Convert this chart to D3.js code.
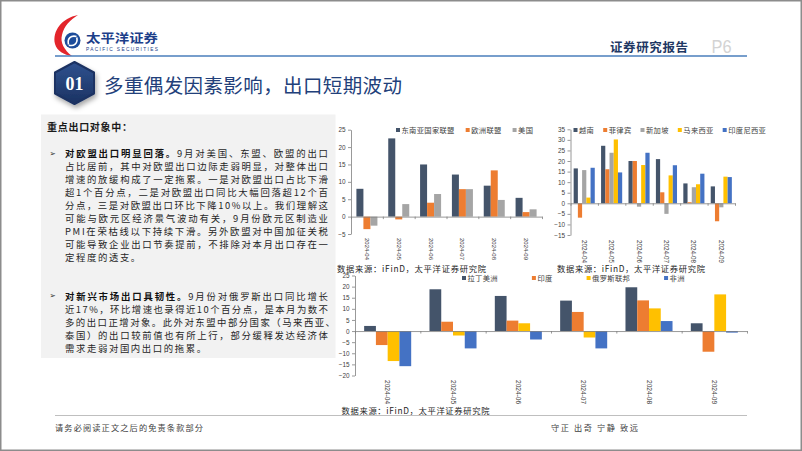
<!DOCTYPE html>
<html><head><meta charset="utf-8">
<script src="https://cdn.jsdelivr.net/npm/d3@7"></script>
<style>body{margin:0;background:#fff;} svg{display:block;}</style>
</head><body>
<svg id="c" width="802" height="451"></svg>
<script>
// ---------- DATA ----------
const months = ["2024-04","2024-05","2024-06","2024-07","2024-08","2024-09"];

const names1 = ["东南亚国家联盟","欧洲联盟","美国"];
const asean = [8.0, 22.5, 15.0, 12.1, 8.9, 5.4];
const eu    = [-3.6, -0.8, 4.0, 7.9, 13.3, 1.3];
const usa   = [-2.6, 3.6, 6.5, 7.9, 4.8, 2.1];
const ticks1 = [-5, 0, 5, 10, 15, 20, 25];

const names2 = ["越南","菲律宾","新加坡","马来西亚","印度尼西亚"];
const vietnam     = [16.5, 27.2, 20.0, 20.9, 9.4, 8.0];
const philippines = [-6.8, 16.1, 20.0, 5.2, 0.5, -8.5];
const singapore   = [15.7, 23.9, -1.6, -5.0, 7.6, -1.9];
const malaysia    = [2.7, 30.2, 18.1, 13.2, 9.0, 12.6];
const indonesia   = [16.8, 14.6, 23.9, 18.0, 14.0, 12.4];
const ticks2 = [-15, -10, -5, 0, 5, 10, 15, 20, 25, 30, 35];

const names3 = ["拉丁美洲","印度","俄罗斯联邦","非洲"];
const latam  = [2.3, 18.8, 15.8, 13.7, 19.7, 3.5];
const india  = [-6.3, 4.2, 4.7, 8.6, 13.8, -9.3];
const russia = [-13.5, -2.0, 3.5, -2.9, 10.2, 16.5];
const africa = [-15.8, -7.8, -3.8, -7.8, 4.5, -0.7];
const ticks3 = [-20, -15, -10, -5, 0, 5, 10, 15, 20, 25];

const sourceText = "数据来源：iFinD，太平洋证券研究院";
const titleText = "多重偶发因素影响，出口短期波动";
const boxHeading = "重点出口对象中：";
const para1 = [
  ["对欧盟出口明显回落。","9月对美国、东盟、欧盟的出口"],
  ["","占比居前，其中对欧盟出口边际走弱明显，对整体出口"],
  ["","增速的放缓构成了一定拖累。一是对欧盟出口占比下滑"],
  ["","超1个百分点，二是对欧盟出口同比大幅回落超12个百"],
  ["","分点，三是对欧盟出口环比下降10%以上。我们理解这"],
  ["","可能与欧元区经济景气波动有关，9月份欧元区制造业"],
  ["","PMI在荣枯线以下持续下滑。另外欧盟对中国加征关税"],
  ["","可能导致企业出口节奏提前，不排除对本月出口存在一"],
  ["","定程度的透支。"]
];
const para2 = [
  ["对新兴市场出口具韧性。","9月份对俄罗斯出口同比增长"],
  ["","近17%，环比增速也录得近10个百分点，是本月为数不"],
  ["","多的出口正增对象。此外对东盟中部分国家（马来西亚、"],
  ["","泰国）的出口较前值也有所上行，部分缓释发达经济体"],
  ["","需求走弱对国内出口的拖累。"]
];

// ---------- COLORS / FONTS ----------
const C_NAVY = "#44546a", C_ORANGE = "#ed7d31", C_GRAY = "#a5a5a5", C_YELLOW = "#ffc000", C_BLUE = "#4472c4";
const F_CJK = "'Noto Sans CJK SC','Noto Sans',sans-serif";
const F_NUM = "'Liberation Sans',Arial,sans-serif";

const svg = d3.select("#c");
svg.append("rect").attr("x",0.75).attr("y",0.75).attr("width",800.5).attr("height",449.5)
  .attr("fill","#fff").attr("stroke","#8c8c8c").attr("stroke-width",1.5);

const defs = svg.append("defs");
const grad = defs.append("linearGradient").attr("id","hexg").attr("x1",0).attr("y1",0).attr("x2",0).attr("y2",1);
grad.append("stop").attr("offset","0%").attr("stop-color","#2f528f");
grad.append("stop").attr("offset","100%").attr("stop-color","#1b3262");
const flt = defs.append("filter").attr("id","sh").attr("x","-50%").attr("y","-50%").attr("width","200%").attr("height","200%");
flt.append("feDropShadow").attr("dx",1.5).attr("dy",3).attr("stdDeviation",2.5).attr("flood-color","#000").attr("flood-opacity",0.35);

// ---------- HEADER ----------
const logo = svg.append("g");
logo.append("path").attr("d","M78,15 C62,18 52,31 55,44 C57,51 64,55 72,56 C64,50 60,42 62,35 C64,26 70,20 78,15 Z").attr("fill","#e3252b");
logo.append("circle").attr("cx",72.5).attr("cy",40.5).attr("r",8).attr("fill","#1d4c9a");
logo.append("path").attr("d","M68.5,44.5 C67,38.5 71,35 76.5,36.5 M76.8,37.5 C78,43.5 74,46.5 68.8,45.2")
  .attr("stroke","#fff").attr("stroke-width",1.6).attr("fill","none");
svg.append("text").attr("x",86).attr("y",37).attr("dominant-baseline","central")
  .attr("font-family",F_CJK).attr("font-weight",700).attr("font-size",12.5).attr("fill","#1d3f8a")
  .attr("textLength",72).attr("lengthAdjust","spacingAndGlyphs").text("太平洋证券");
svg.append("text").attr("x",86).attr("y",49).attr("dominant-baseline","central")
  .attr("font-family",F_NUM).attr("font-size",4.8).attr("fill","#1d3f8a")
  .attr("textLength",72).attr("lengthAdjust","spacing").text("PACIFIC SECURITIES");

svg.append("text").attr("x",610).attr("y",46).attr("dominant-baseline","central")
  .attr("font-family",F_CJK).attr("font-weight",700).attr("font-size",12.5).attr("fill","#1f3864")
  .attr("textLength",78).attr("lengthAdjust","spacing").text("证券研究报告");
svg.append("text").attr("x",711.5).attr("y",46.5).attr("dominant-baseline","central")
  .attr("font-family",F_NUM).attr("font-size",19).attr("fill","#d3d3d3")
  .attr("textLength",20).attr("lengthAdjust","spacingAndGlyphs").text("P6");
svg.append("line").attr("x1",55).attr("x2",747).attr("y1",56).attr("y2",56)
  .attr("stroke","#4a7ebb").attr("stroke-width",1.5);

// badge
const hx = 74.5, hy = 83, hr = 21, hw = 19.5;
const hexPts = [[hx,hy-hr],[hx+hw,hy-hr/2],[hx+hw,hy+hr/2],[hx,hy+hr],[hx-hw,hy+hr/2],[hx-hw,hy-hr/2]];
svg.append("path").attr("d","M"+hexPts.map(p=>p.join(",")).join("L")+"Z")
  .attr("fill","url(#hexg)").attr("stroke","#1b3262").attr("stroke-width",2).attr("stroke-linejoin","round")
  .attr("filter","url(#sh)");
svg.append("text").attr("x",hx).attr("y",hy+1).attr("text-anchor","middle").attr("dominant-baseline","central")
  .attr("font-family","'Liberation Serif','DejaVu Serif',serif").attr("font-weight",700).attr("font-size",18)
  .attr("fill","#fff").text("01");
svg.append("text").attr("x",104).attr("y",84.5).attr("dominant-baseline","central")
  .attr("font-family",F_CJK).attr("font-size",19.5).attr("fill","#22407a")
  .attr("textLength",298).attr("lengthAdjust","spacing").text(titleText);

// ---------- TEXT BOX ----------
svg.append("rect").attr("x",41).attr("y",114.5).attr("width",294.5).attr("height",243.5).attr("fill","#f2f2f2");
svg.append("text").attr("x",47).attr("y",126.7).attr("dominant-baseline","central")
  .attr("font-family",F_CJK).attr("font-weight",700).attr("font-size",10).attr("fill","#1a1a1a")
  .attr("textLength",85).attr("lengthAdjust","spacing").text(boxHeading);

function drawPara(lines, y0){
  svg.append("text").attr("x",49.5).attr("y",y0).attr("dominant-baseline","central")
    .attr("font-family","'DejaVu Sans',sans-serif").attr("font-size",7.5).attr("fill","#222").text("➢");
  lines.forEach((ln,i)=>{
    const last = i === lines.length-1;
    const t = svg.append("text").attr("x",65).attr("y",y0+13*i).attr("dominant-baseline","central")
      .attr("font-family",F_CJK).attr("font-size",9.4).attr("fill","#262626");
    if (ln[0]) t.append("tspan").attr("font-weight",700).attr("fill","#111").text(ln[0]);
    t.append("tspan").text(ln[1]);
    if (!last) {
      const w = (ln[1].slice(-1) === "、") ? 270 : 263;
      t.attr("textLength",w).attr("lengthAdjust","spacing");
    } else {
      t.attr("letter-spacing",1.6);
    }
  });
}
drawPara(para1, 153.3);
drawPara(para2, 295.7);

// ---------- CHARTS ----------
function drawChart(cfg){
  const g = svg.append("g");
  const dom = [cfg.ticks[0], cfg.ticks[cfg.ticks.length-1]];
  const y = d3.scaleLinear().domain(dom).range([cfg.yBottom, cfg.yTop]);
  const x = d3.scaleBand().domain(months).range([cfg.x0, cfg.x1]).paddingInner(cfg.pad).paddingOuter(cfg.pad/2);
  const xs = d3.scaleBand().domain(d3.range(cfg.series.length)).range([0, x.bandwidth()]);

  cfg.series.forEach((s,i)=>{
    g.append("g").selectAll("rect").data(s.values).enter().append("rect")
      .attr("x",(d,j)=>x(months[j])+xs(i))
      .attr("y",d=>y(Math.max(0,d)))
      .attr("width",xs.bandwidth())
      .attr("height",d=>Math.abs(y(d)-y(0)))
      .attr("fill",s.color);
  });

  // y axis
  const ya = g.append("g").attr("transform",`translate(${cfg.x0},0)`)
    .call(d3.axisLeft(y).tickValues(cfg.ticks).tickSize(3).tickPadding(2.5).tickSizeOuter(0));
  ya.select(".domain").attr("stroke","#7f7f7f").attr("stroke-width",0.8);
  ya.selectAll(".tick line").attr("stroke","#7f7f7f").attr("stroke-width",0.8);
  ya.selectAll(".tick text").attr("font-family",F_NUM).attr("font-size",6.4).attr("fill","#404040");

  // zero line with category ticks
  const xa = g.append("g").attr("transform",`translate(0,${y(0)})`)
    .call(d3.axisBottom(d3.scaleLinear().domain([0,months.length]).range([cfg.x0,cfg.x1]))
      .tickValues(d3.range(0, months.length+1)).tickSize(2.5).tickFormat("").tickSizeOuter(0));
  xa.select(".domain").attr("stroke","#7f7f7f").attr("stroke-width",0.8);
  xa.selectAll(".tick line").attr("stroke","#7f7f7f").attr("stroke-width",0.8);

  // rotated category labels at the bottom
  g.append("g").selectAll("text").data(months).enter().append("text")
    .attr("transform",d=>`translate(${x(d)+x.bandwidth()/2},${cfg.labelY}) rotate(90)`)
    .attr("dominant-baseline","central")
    .attr("font-family",F_NUM).attr("font-size",cfg.labelSize).attr("fill","#404040")
    .text(d=>d);

  // legend
  let lx = cfg.legendX;
  cfg.series.forEach(s=>{
    g.append("rect").attr("x",lx).attr("y",cfg.legendY-2).attr("width",4).attr("height",4).attr("fill",s.color);
    const t = g.append("text").attr("x",lx+5.5).attr("y",cfg.legendY).attr("dominant-baseline","central")
      .attr("font-family",F_CJK).attr("font-size",7.3).attr("fill","#404040").attr("letter-spacing",0.3).text(s.name);
    lx += 5.5 + t.node().getComputedTextLength() + cfg.legendGap;
  });

  // source
  svg.append("text").attr("x",cfg.srcX).attr("y",cfg.srcY).attr("dominant-baseline","central")
    .attr("font-family",F_CJK).attr("font-size",8.3).attr("fill","#262626")
    .attr("textLength",cfg.srcLen).attr("lengthAdjust","spacing").text(sourceText);
}

drawChart({
  ticks: ticks1, x0: 351, x1: 542, yTop: 129.7, yBottom: 234, pad: 0.34, labelY: 238, labelSize: 6,
  series: [{name:names1[0],values:asean,color:C_NAVY},{name:names1[1],values:eu,color:C_ORANGE},{name:names1[2],values:usa,color:C_GRAY}],
  legendX: 396, legendY: 130, legendGap: 11,
  srcX: 337, srcY: 267.5, srcLen: 149
});
drawChart({
  ticks: ticks2, x0: 570.5, x1: 735, yTop: 129.3, yBottom: 235, pad: 0.23, labelY: 240, labelSize: 6.3,
  series: [{name:names2[0],values:vietnam,color:C_NAVY},{name:names2[1],values:philippines,color:C_ORANGE},
           {name:names2[2],values:singapore,color:C_GRAY},{name:names2[3],values:malaysia,color:C_YELLOW},
           {name:names2[4],values:indonesia,color:C_BLUE}],
  legendX: 573.5, legendY: 130, legendGap: 9,
  srcX: 557, srcY: 267.5, srcLen: 148
});
drawChart({
  ticks: ticks3, x0: 355, x1: 747, yTop: 275.5, yBottom: 375.5, pad: 0.28, labelY: 380, labelSize: 6.6,
  series: [{name:names3[0],values:latam,color:C_NAVY},{name:names3[1],values:india,color:C_ORANGE},
           {name:names3[2],values:russia,color:C_YELLOW},{name:names3[3],values:africa,color:C_BLUE}],
  legendX: 462, legendY: 278, legendGap: 34,
  srcX: 341.5, srcY: 410, srcLen: 148
});

// ---------- FOOTER ----------
svg.append("line").attr("x1",55).attr("x2",747).attr("y1",415.5).attr("y2",415.5).attr("stroke","#bfbfbf").attr("stroke-width",1.2);
svg.append("text").attr("x",55).attr("y",427).attr("dominant-baseline","central")
  .attr("font-family",F_CJK).attr("font-size",8.2).attr("fill","#404040")
  .attr("textLength",148).attr("lengthAdjust","spacing").text("请务必阅读正文之后的免责条款部分");
svg.append("text").attr("x",551).attr("y",427).attr("dominant-baseline","central")
  .attr("font-family",F_CJK).attr("font-size",8.2).attr("fill","#404040")
  .attr("textLength",87).attr("lengthAdjust","spacing").text("守正 出奇 宁静 致远");
</script>
</body></html>
